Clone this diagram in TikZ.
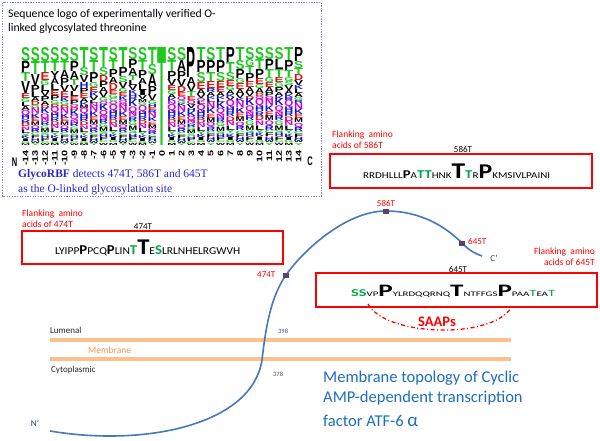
\documentclass[tikz,border=0pt]{standalone}
\usepackage{fontspec}
\usepackage{graphicx}
\setmainfont{Carlito}
\newfontfamily\logofont{Liberation Sans}
\newfontfamily\timesf{Liberation Serif}
\usetikzlibrary{calc}
\definecolor{lgG}{RGB}{30,200,30}
\definecolor{lgB}{RGB}{20,20,210}
\definecolor{lgR}{RGB}{220,20,20}
\definecolor{lgM}{RGB}{210,0,210}
\definecolor{lgK}{RGB}{0,0,0}
\definecolor{seqgreen}{RGB}{0,165,75}
\definecolor{curveblue}{RGB}{70,120,190}
\definecolor{capblue}{RGB}{30,110,190}
\definecolor{memorange}{RGB}{250,192,142}
\definecolor{laborange}{RGB}{240,150,80}
\definecolor{glycoblue}{RGB}{40,40,205}
\definecolor{dotblue}{RGB}{130,130,230}
\definecolor{markfill}{RGB}{55,80,130}
\definecolor{darklab}{RGB}{40,40,40}
\definecolor{numlab}{RGB}{60,80,120}
\definecolor{termlab}{RGB}{40,60,100}
\definecolor{bred}{RGB}{255,0,0}

\tikzset{
  lgl/.style={anchor=north, inner sep=0pt, outer sep=0pt, font=\logofont\bfseries},
  poslab/.style={rotate=90, anchor=east, inner sep=0pt, font=\logofont\bfseries\fontsize{8}{8}\selectfont},
  redbox/.style={draw=bred, line width=1.6pt, inner sep=0pt},
  flank/.style={inner sep=0pt, text=bred, font=\fontsize{9.5}{9.5}\selectfont},
  sitelab/.style={inner sep=0pt, anchor=base, font=\fontsize{9}{9}\selectfont},
  marklab/.style={inner sep=0pt, text=bred, font=\fontsize{9}{9}\selectfont},
  seqtxt/.style={inner sep=0pt, anchor=base west},
  marker/.style={rectangle, fill=markfill, minimum width=6.5pt, minimum height=5pt, inner sep=0pt,
    path picture={\draw[bred, line width=0.9pt] ([xshift=1.6pt]path picture bounding box.west) -- ([xshift=-1.6pt]path picture bounding box.east);}},
  membr/.style={memorange, line width=4pt},
  curve/.style={curveblue, line width=1.6pt},
  memlab/.style={inner sep=0pt, anchor=base west, font=\fontsize{9}{9}\selectfont},
  caption/.style={inner sep=0pt, anchor=base west, text=capblue, font=\fontsize{16.5}{16.5}\selectfont},
}

\def\lgtailA{K/lgB/3, Q/lgM/2.5, N/lgM/2, R/lgB/2, G/lgG/2, M/lgK/2, S/lgG/1.5, H/lgB/1.5, F/lgK/1.5, C/lgG/1, W/lgK/1}
\def\lgtailB{Q/lgM/3, H/lgB/2.5, R/lgB/2, D/lgR/2, N/lgM/2, L/lgK/2, Y/lgG/1.5, K/lgB/1.5, I/lgK/1.5, G/lgG/1, M/lgK/1}
\def\lgtailC{N/lgM/3, K/lgB/2.5, E/lgR/2, M/lgK/2, Q/lgM/2, R/lgB/2, C/lgG/1.5, F/lgK/1.5, H/lgB/1.5, W/lgK/1, Y/lgG/1}

\newcommand\logocol[2]{%
  \pgfmathsetmacro\lgcx{162+9.75*(#1)}%
  \xdef\lgcury{47}%
  \foreach \t/\c/\h [count=\i] in {#2}{%
    \node[lgl] (lg#1n\i) at (\lgcx,\lgcury) {\resizebox{9pt}{\h pt}{\textcolor{\c}{\t}}};%
    \pgfmathsetmacro\lgtmp{\lgcury+\h}\xdef\lgcury{\lgtmp}%
  }%
  \pgfmathsetmacro\lgrem{145-\lgcury}%
  \pgfmathtruncatemacro\lgvar{mod((#1)+21,3)}%
  \ifcase\lgvar \let\lgtail\lgtailA \or \let\lgtail\lgtailB \else \let\lgtail\lgtailC \fi
  \foreach \t/\c/\h [count=\i] in \lgtail {%
    \pgfmathsetmacro\lghh{\h*\lgrem/20}%
    \node[lgl] (lg#1t\i) at (\lgcx,\lgcury) {\resizebox{9pt}{\lghh pt}{\textcolor{\c}{\t}}};%
    \pgfmathsetmacro\lgtmp{\lgcury+\lghh}\xdef\lgcury{\lgtmp}%
  }%
}

\newcommand\sqs[2]{{\fontsize{#1}{#1}\selectfont #2}}
\newcommand\sqb[2]{{\fontsize{#1}{#1}\selectfont\bfseries #2}}
\newcommand\sqg[2]{{\color{seqgreen}\fontsize{#1}{#1}\selectfont\bfseries #2}}
\newcommand\sqgn[2]{{\color{seqgreen}\fontsize{#1}{#1}\selectfont #2}}
\newsavebox\fitbox
\newcommand\fitx[2]{\sbox\fitbox{#2}\pgfmathsetmacro\fitfac{#1/\the\wd\fitbox}\scalebox{\fitfac}[1]{\usebox\fitbox}}

\begin{document}
\begin{tikzpicture}[x=1pt,y=-1pt]
\useasboundingbox (0,0) rectangle (600,440);
\fill[white] (0,0) rectangle (600,440);

% dotted frame of the logo panel
\draw[dotblue, line width=0.7pt, dash pattern=on 1.3pt off 1.3pt] (2.5,2.5) rectangle (321.5,196);
\node[inner sep=0pt, anchor=base west, font=\fontsize{11.7}{11.7}\selectfont] (title1) at (8,17) {Sequence logo of experimentally verified O-};
\node[inner sep=0pt, anchor=base west, font=\fontsize{11.7}{11.7}\selectfont] (title2) at (8,31) {linked glycosylated threonine};

% sequence logo
\logocol{-14}{S/lgG/14, P/lgK/11, T/lgG/9, V/lgK/12, E/lgR/5, G/lgG/4, L/lgK/4, A/lgK/4}
\logocol{-13}{S/lgG/14, T/lgG/13, V/lgK/11, P/lgK/7, L/lgK/5, A/lgK/4, D/lgR/4, G/lgG/3}
\logocol{-12}{S/lgG/14, T/lgG/11, E/lgR/8, G/lgG/5, L/lgK/6, V/lgK/5, P/lgK/5, A/lgK/4, D/lgR/3}
\logocol{-11}{S/lgG/14, T/lgG/10, Y/lgK/7, A/lgK/6, L/lgK/6, E/lgR/5, P/lgK/5, G/lgG/4, D/lgR/3}
\logocol{-10}{S/lgG/14, T/lgG/9, A/lgK/8, P/lgK/7, V/lgK/6, E/lgR/6, K/lgB/4, G/lgG/4, D/lgR/3}
\logocol{-9}{S/lgG/14, P/lgK/10, A/lgK/8, T/lgG/6, V/lgK/6, L/lgK/5, E/lgR/4, P/lgK/4, Q/lgM/3, D/lgR/3}
\logocol{-8}{T/lgG/20, S/lgG/8, V/lgK/7, H/lgB/6, P/lgK/5, E/lgR/5, A/lgK/4, K/lgB/3, M/lgK/3}
\logocol{-7}{S/lgG/13, T/lgG/12, P/lgK/10, G/lgG/5, E/lgR/5, K/lgB/4, V/lgK/4, L/lgK/3, N/lgM/3}
\logocol{-6}{T/lgG/20, S/lgG/8, D/lgR/6, P/lgK/6, A/lgK/5, V/lgK/5, G/lgG/4, Q/lgM/3}
\logocol{-5}{S/lgG/13, T/lgG/9, P/lgK/8, A/lgK/6, D/lgR/7, E/lgR/4, G/lgG/4, C/lgG/3, Q/lgM/3}
\logocol{-4}{T/lgG/20, P/lgK/9, S/lgG/6, V/lgK/6, G/lgG/4, E/lgR/4, K/lgB/4, Q/lgM/3, N/lgM/3}
\logocol{-3}{S/lgG/12, P/lgK/9, A/lgK/7, T/lgG/5, L/lgK/5, V/lgK/5, K/lgB/4, H/lgB/3, R/lgB/3}
\logocol{-2}{S/lgG/13, T/lgG/10, P/lgK/8, A/lgK/6, L/lgK/6, I/lgK/5, V/lgK/4, M/lgK/3, G/lgG/3}
\logocol{-1}{T/lgG/17, S/lgG/10, A/lgK/12, P/lgK/8, V/lgK/6, G/lgG/4, H/lgB/3, E/lgR/3, R/lgB/3}
\node[lgl] (lg0) at (162,47) {\resizebox{9pt}{98pt}{\textcolor{lgG}{T}}};
\logocol{1}{S/lgG/13, T/lgG/11, P/lgK/8, V/lgK/6, E/lgR/5, G/lgG/4, A/lgK/4, K/lgB/3, N/lgM/3}
\logocol{2}{S/lgG/13, A/lgK/11, P/lgK/8, V/lgK/7, D/lgR/6, E/lgR/4, Q/lgM/4, G/lgG/3, K/lgB/3}
\logocol{3}{P/lgK/30, A/lgK/8, V/lgK/6, T/lgG/5, E/lgR/4, Q/lgM/4, V/lgK/4, H/lgB/3}
\logocol{4}{T/lgG/13, P/lgK/12, S/lgG/10, E/lgR/7, A/lgK/5, V/lgK/4, Q/lgM/3, L/lgK/3}
\logocol{5}{S/lgG/13, P/lgK/12, T/lgG/9, E/lgR/7, R/lgB/4, A/lgK/4, K/lgB/3, L/lgK/3}
\logocol{6}{T/lgG/13, P/lgK/12, S/lgG/9, E/lgR/6, E/lgR/5, A/lgK/4, K/lgB/3, L/lgK/3}
\logocol{7}{P/lgK/15, T/lgG/10, S/lgG/8, E/lgR/6, G/lgG/4, A/lgK/4, K/lgB/3, V/lgK/3}
\logocol{8}{T/lgG/13, S/lgG/9, P/lgK/9, G/lgG/5, E/lgR/6, A/lgK/5, V/lgK/4, K/lgB/3}
\logocol{9}{S/lgG/12, G/lgG/7, T/lgG/7, P/lgK/8, E/lgR/6, A/lgK/5, V/lgK/4, D/lgR/3}
\logocol{10}{S/lgG/12, T/lgG/10, P/lgK/9, E/lgR/6, G/lgG/4, A/lgK/5, D/lgR/3, Q/lgM/3}
\logocol{11}{S/lgG/12, P/lgK/10, T/lgG/8, G/lgG/5, E/lgR/5, A/lgK/5, P/lgK/4, Q/lgM/3}
\logocol{12}{S/lgG/12, L/lgK/10, T/lgG/8, E/lgR/5, G/lgG/5, P/lgK/5, A/lgK/4, K/lgB/3}
\logocol{13}{T/lgG/13, P/lgK/10, T/lgG/7, G/lgG/4, S/lgG/4, V/lgK/5, A/lgK/4, K/lgB/3, R/lgB/3}
\logocol{14}{P/lgK/14, S/lgG/7, T/lgG/6, D/lgR/6, V/lgK/5, K/lgB/4, L/lgK/4, A/lgK/4, G/lgG/3, R/lgB/3}
\foreach \n in {-14,...,14}{
  \node[poslab] (pl\n) at ({162+9.75*\n},150) {\scalebox{1.35}[1]{\n}};
}
\node[inner sep=0pt, font=\logofont\bfseries\fontsize{10}{10}\selectfont] (nterm) at (14.5,162) {\scalebox{0.75}[1.25]{N}};
\node[inner sep=0pt, font=\logofont\bfseries\fontsize{10}{10}\selectfont] (cterm) at (310,161) {\scalebox{0.75}[1.25]{C}};

\node[inner sep=0pt, anchor=base west, text=glycoblue, font=\timesf\fontsize{11.5}{11.5}\selectfont] (gly1) at (18,177) {\textbf{GlycoRBF} detects 474T, 586T and 645T};
\node[inner sep=0pt, anchor=base west, text=glycoblue, font=\timesf\fontsize{11.5}{11.5}\selectfont] (gly2) at (18,192) {as the O-linked glycosylation site};

% membrane
\draw[membr] (50,340) coordinate (ml1a) -- (511,340) coordinate (ml1b);
\draw[membr] (50,359) coordinate (ml2a) -- (511,359) coordinate (ml2b);
\node[memlab, text=darklab] (lumen) at (50,333) {Lumenal};
\node[memlab, text=laborange, font=\fontsize{9.5}{9.5}\selectfont] (membr) at (88,353) {Membrane};
\node[memlab, text=darklab] (cyto) at (51,372) {Cytoplasmic};
\node[memlab, text=numlab, font=\fontsize{6.5}{6.5}\selectfont] (n398) at (278,333) {398};
\node[memlab, text=numlab, font=\fontsize{6.5}{6.5}\selectfont] (n378) at (273,376) {378};

% protein curve
\coordinate (nstart) at (50,431);
\coordinate (cross) at (262,360);
\coordinate (p474) at (286,275);
\coordinate (p586) at (386,211);
\coordinate (p645) at (462,243);
\coordinate (cend) at (482,256);
\draw[curve] (nstart) .. controls (145,447) and (252,425) .. (cross)
  .. controls (265.5,330) and (270,298) .. (p474)
  .. controls (302,252) and (345,211) .. (p586)
  .. controls (422,211) and (447,228) .. (p645)
  .. controls (470,251) and (474,253) .. (cend);
\node[marker] (m474) at (p474) {};
\node[marker] (m586) at (p586) {};
\node[marker] (m645) at (p645) {};
\node[marklab, anchor=base west] (l474) at (257,277) {474T};
\node[marklab, anchor=base] (l586) at (386,206) {586T};
\node[marklab, anchor=base west] (l645) at (468,244) {645T};
\node[inner sep=0pt, text=termlab, font=\fontsize{9}{9}\selectfont] (nprime) at (35,423) {N'};
\node[inner sep=0pt, text=termlab, font=\fontsize{9}{9}\selectfont] (cprime) at (494,258) {C'};

% box 474T
\node[flank, anchor=base west] (f474a) at (22,216) {Flanking~ amino};
\node[flank, anchor=base west] (f474b) at (22,227) {acids of 474T};
\node[redbox, minimum width=261pt, minimum height=33pt] (b474) at (152.5,247.5) {};
\node[sitelab] (s474) at (143,229.5) {474T};
\node[seqtxt] (q474) at (55,254) {\fitx{185}{\sqs{10.5}{LYIPP}\sqb{13.5}{P}\sqs{10.5}{PCQ}\sqb{13.5}{P}\sqs{10.5}{LIN}\sqg{13.5}{T}\sqb{22.5}{T}\sqs{10.5}{E}\sqg{13.5}{S}\sqs{10.5}{LRLNHELRGWVH}}};

% box 586T
\node[flank, anchor=base west] (f586a) at (332,137) {Flanking~ amino};
\node[flank, anchor=base west] (f586b) at (332,148) {acids of 586T};
\node[redbox, minimum width=262pt, minimum height=34pt] (b586) at (461,171) {};
\node[sitelab] (s586) at (463,152) {586T};
\node[seqtxt] (q586) at (363,178) {\fitx{187}{\sqs{9}{RRDHLLL}\sqb{12}{P}\sqs{9}{A}\sqg{12}{TT}\sqs{9}{HNK}\sqb{22.5}{T}\sqg{12}{T}\sqs{9}{R}\sqb{21}{P}\sqs{9}{KMSIVLPAINI}}};

% box 645T
\node[flank, anchor=base east] (f645a) at (595,254) {Flanking~ amino};
\node[flank, anchor=base east] (f645b) at (595,265) {acids of 645T};
\node[redbox, minimum width=281pt, minimum height=34pt] (b645) at (456.5,290) {};
\node[sitelab] (s645) at (458,272) {645T};
\node[seqtxt] (q645) at (351,296) {\fitx{204}{\sqg{10.5}{SS}\sqs{7}{VP}\sqb{17.5}{P}\sqs{7}{YLRDQQRNQ}\sqb{17.5}{T}\sqs{7}{NTFFGS}\sqb{17.5}{P}\sqs{7}{PAA}\sqgn{9.5}{T}\sqs{7}{EA}\sqgn{9.5}{T}}};

% SAAPs
\coordinate (sa1) at (368,304);
\coordinate (sa2) at (511,308);
\draw[bred, line width=1.3pt, dash pattern=on 4pt off 2.5pt on 1pt off 2.5pt] (sa1) .. controls (385,336) and (490,340) .. (sa2);
\node[inner sep=0pt, anchor=base, text=bred, font=\fontsize{14.5}{14.5}\selectfont\bfseries] (saaps) at (437,326) {SAAPs};

% caption
\node[caption] (cap1) at (323,382) {Membrane topology of Cyclic};
\node[caption] (cap2) at (323,402) {AMP-dependent transcription};
\node[caption] (cap3) at (323,426) {factor ATF-6 {\fontsize{19}{19}\selectfont α}};
\end{tikzpicture}
\end{document}
